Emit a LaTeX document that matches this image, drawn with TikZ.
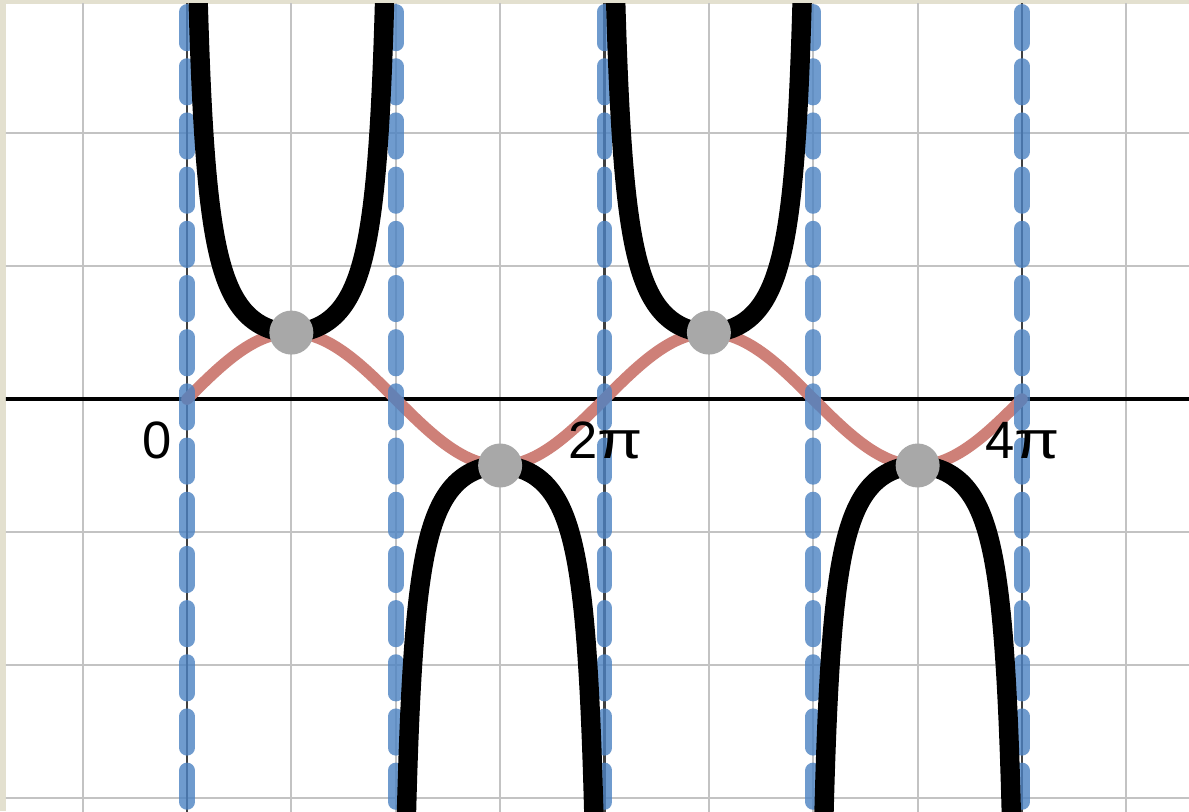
\documentclass[tikz,border=0pt]{standalone}
\usepackage{fontspec}
\setmainfont{Liberation Sans}
\definecolor{beige}{RGB}{227,224,207}
\definecolor{gridc}{RGB}{195,195,195}
\definecolor{sinred}{RGB}{206,128,120}
\definecolor{asyblue}{RGB}{76,130,194}
\definecolor{dotgray}{RGB}{168,168,168}
\newcommand{\wpi}{\scalebox{1.25}[1]{π}}
\tikzset{
  gridline/.style={draw=gridc, line width=0.9pt},
  axisline/.style={draw=black, line width=1.4pt},
  darkline/.style={draw=black!75, line width=0.9pt},
  sinline/.style={draw=sinred, line width=5pt, line cap=round},
  asyline/.style={draw=asyblue, draw opacity=0.8, line width=6.8pt, line cap=round, dash pattern=on 13.4pt off 9.8pt},
  cscline/.style={draw=black, line width=8.3pt},
  ptdot/.style={circle, fill=dotgray, minimum size=0.662cm, inner sep=0pt},
  lbl/.style={font=\fontsize{22.5}{26}\selectfont, inner sep=0pt}
}
\begin{document}
\begin{tikzpicture}
\useasboundingbox (-2.814,-6.200) rectangle (15.079,6.005);
\fill[beige] (-2.814,-6.200) rectangle (15.079,6.005);
\fill[white] (-2.724,-6.200) rectangle (15.079,5.945);
\begin{scope}
\clip (-2.724,-6.200) rectangle (15.079,5.945);
\foreach \k in {-1,1,2,3,5,6,7,9} {
  \draw[gridline] ({\k*pi/2},-6.3) -- ({\k*pi/2},6.1);
}
\foreach \y in {-6,-4,-2,2,4,6} {
  \draw[gridline] (-2.9,\y) -- (15.2,\y);
}
\foreach \k in {0,4,8} {
  \draw[darkline] ({\k*pi/2},-6.3) -- ({\k*pi/2},6.1);
}
\draw[axisline] (-2.9,0) -- (15.2,0);
\draw[sinline] plot[domain=0:4*pi, samples=200, smooth] (\x,{sin(\x r)});
\foreach \k in {0,1,2,3,4} {
  \draw[asyline] ({\k*pi},6.64) -- ({\k*pi},-6.5);
}
\foreach \k in {0,1,2,3} {
  \draw[cscline] plot[domain={\k*pi+0.14}:{(\k+1)*pi-0.14}, samples=300, smooth] (\x,{1/sin(\x r)});
}
\node[ptdot] (p1) at ({pi/2},1) {};
\node[ptdot] (p2) at ({3*pi/2},-1) {};
\node[ptdot] (p3) at ({5*pi/2},1) {};
\node[ptdot] (p4) at ({7*pi/2},-1) {};
\end{scope}
\node[lbl] (l0) at (-0.451,-0.63) {0};
\node[lbl] (l2) at (6.30,-0.63) {2\wpi};
\node[lbl] (l4) at (12.58,-0.63) {4\wpi};
\end{tikzpicture}
\end{document}
